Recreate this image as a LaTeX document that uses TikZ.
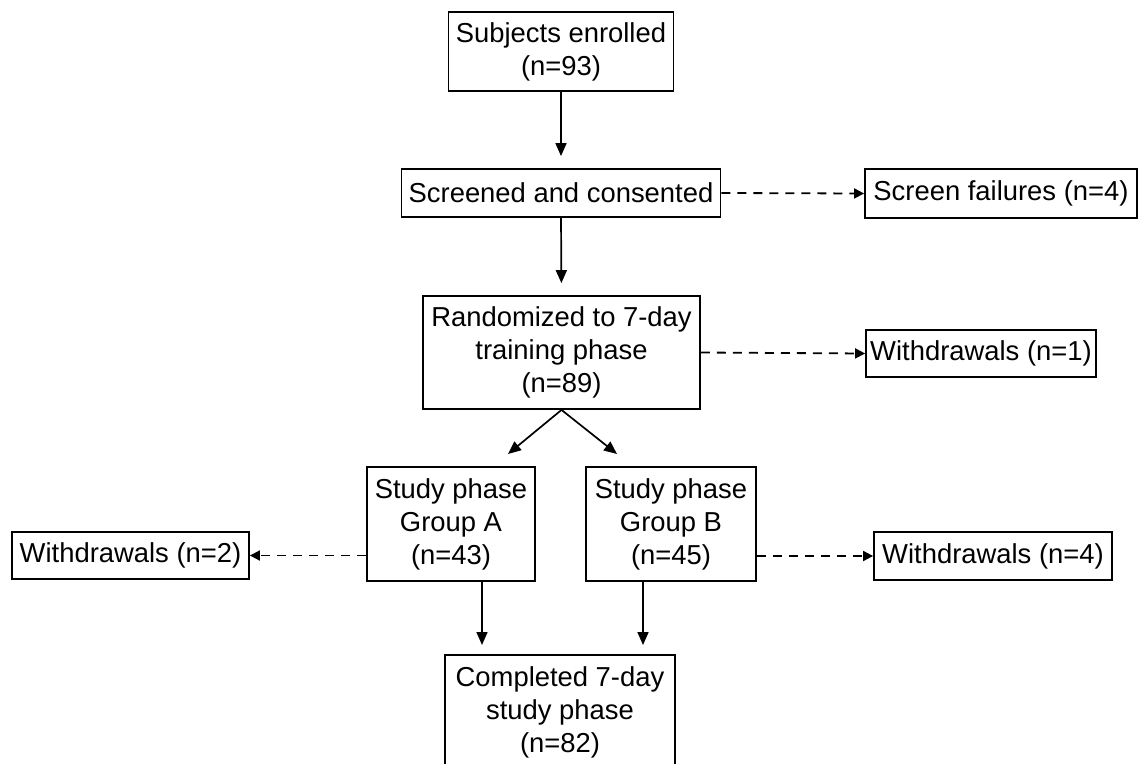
\documentclass[tikz,border=0pt]{standalone}
\usepackage{fontspec}
\setmainfont{Liberation Sans}
\usetikzlibrary{arrows.meta,calc}
\begin{document}
\begin{tikzpicture}[x=1pt,y=-1pt,
  box/.style={draw, line width=1.8pt, align=center, inner sep=0pt,
    font=\fontsize{27.4}{33}\selectfont},
  solidarrow/.style={line width=1.7pt, -{Triangle[length=13pt,width=11pt]}, shorten >=12pt},
  diagarrow/.style={line width=1.7pt, -{Triangle[length=13pt,width=11pt]}},
  dasharrow/.style={line width=1.8pt, dash pattern=on 9pt off 7pt, -{Triangle[length=10pt,width=10pt]}}]
\useasboundingbox (0,0) rectangle (1140,763);

\node[box, minimum width=225pt, minimum height=79pt] (enr) at (561,51.5) {Subjects enrolled\\(n=93)};
\node[box, minimum width=319pt, minimum height=48pt] (scr) at (561,193) {Screened and consented};
\node[box, minimum width=272pt, minimum height=49pt] (fail) at (1001,193.5) {Screen failures (n=4)};
\node[box, minimum width=277pt, minimum height=113pt] (rand) at (561.5,352.5) {Randomized to 7-day\\training phase\\(n=89)};
\node[box, minimum width=230pt, minimum height=47pt] (wone) at (981,353.5) {Withdrawals (n=1)};
\node[box, minimum width=168pt, minimum height=114pt] (grpA) at (451,524) {Study phase\\Group A\\(n=43)};
\node[box, minimum width=170pt, minimum height=114pt] (grpB) at (671,524) {Study phase\\Group B\\(n=45)};
\node[box, minimum width=237pt, minimum height=47pt] (wtwo) at (130.5,555.5) {Withdrawals (n=2)};
\node[box, minimum width=238pt, minimum height=48pt] (wfour) at (993,556) {Withdrawals (n=4)};
\node[box, minimum width=230pt, minimum height=115pt] (comp) at (560,712.5) {Completed 7-day\\study phase\\(n=82)};

\coordinate (ta) at (508,454);
\coordinate (tb) at (617,454);
\coordinate (ca) at (482,655);
\coordinate (cb) at (643,655);

\draw[solidarrow] (enr.south) -- (scr.north);
\draw[solidarrow] (scr.south) -- (rand.north);
\draw[dasharrow] (scr.east) -- (fail.west);
\draw[dasharrow] (rand.east) -- (wone.west);
\draw[diagarrow] (rand.south) -- (ta);
\draw[diagarrow] (rand.south) -- (tb);
\draw[dasharrow] (wtwo.east -| grpA.west) -- (wtwo.east);
\draw[dasharrow] (wfour.west -| grpB.east) -- (wfour.west);
\draw[solidarrow, shorten >=10pt] (grpA.south -| ca) -- (ca);
\draw[solidarrow, shorten >=10pt] (grpB.south -| cb) -- (cb);
\end{tikzpicture}
\end{document}
